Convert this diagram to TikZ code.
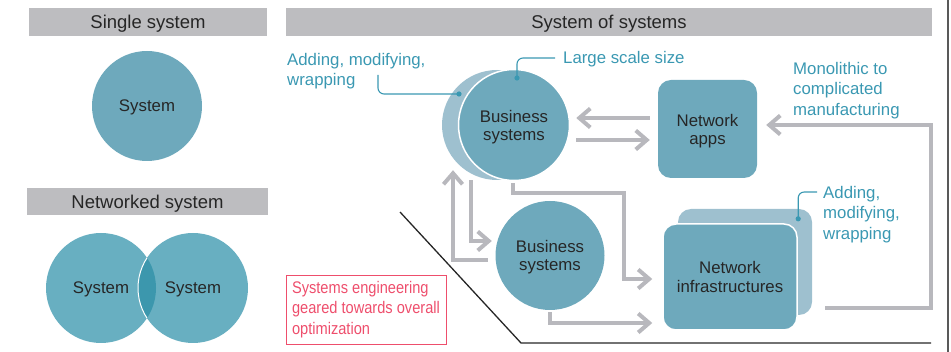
\documentclass[tikz,border=0pt]{standalone}
\usepackage{fontspec}
\setmainfont{Liberation Sans}
\newfontfamily\condfont{Liberation Sans}[FakeStretch=0.87]
\usetikzlibrary{arrows.meta,calc}
\definecolor{sysblue}{RGB}{110,169,188}
\definecolor{netblue}{RGB}{104,175,193}
\definecolor{ovblue}{RGB}{60,151,173}
\definecolor{shade}{RGB}{158,192,207}
\definecolor{hdrgray}{RGB}{189,189,192}
\definecolor{arrgray}{RGB}{184,184,189}
\definecolor{lblblue}{RGB}{58,152,178}
\definecolor{txtdark}{RGB}{38,38,38}
\definecolor{pinkred}{RGB}{238,78,108}
\begin{document}
\begin{tikzpicture}[x=1pt,y=-1pt,
  hdr/.style={fill=hdrgray, inner sep=0pt, text=txtdark, text depth=0pt,
    font=\fontsize{18.5}{20}\selectfont},
  sysc/.style={circle, inner sep=0pt, minimum size=110pt, text=txtdark, text depth=0pt,
    align=center, font=\fontsize{16.8}{18}\selectfont},
  sysbox/.style={rectangle, rounded corners=13pt, inner sep=0pt, text=txtdark, text depth=0pt,
    align=center, font=\fontsize{16.8}{18.5}\selectfont},
  garrow/.style={draw=arrgray, line width=4pt, -{Straight Barb[length=11pt,width=19pt]}},
  leader/.style={draw=lblblue, line width=1.1pt, rounded corners=6pt},
  lbl/.style={text=lblblue, inner sep=0pt, align=left, font=\fontsize{16.8}{20.5}\selectfont},
  dotc/.style={fill=lblblue}
]
\useasboundingbox (0,0) rectangle (951,352);

% headers
\node[hdr, minimum width=238pt, minimum height=28pt] (h1) at (148,22) {Single system};
\node[hdr, minimum width=241pt, minimum height=27pt] (h2) at (147.5,201.5) {Networked system};
\node[hdr, minimum width=646pt, minimum height=28pt] (h3) at (609,22) {System of systems};

% single system
\node[sysc, fill=sysblue] (s1) at (147,106) {System};

% networked system
\node[sysc, fill=netblue] (n1) at (101,288) {System};
\node[sysc, fill=netblue] (n2) at (193,288) {System};
\begin{scope}
  \clip (n1.center) circle (55);
  \fill[ovblue] (n2.center) circle (55);
  \draw[white, line width=1pt] (n2.center) circle (55);
\end{scope}

% system of systems
\node[sysc, fill=shade] (bs1s) at (497,125) {};
\node[sysc, fill=sysblue, draw=white, line width=1.5pt, minimum size=111pt] (bs1) at (514,125) {Business\\systems};
\node[sysbox, fill=sysblue, minimum width=99pt, minimum height=98pt, font=\fontsize{16.8}{18}\selectfont] (apps) at (707.5,129) {Network\\apps};
\node[sysc, fill=sysblue, minimum size=109pt] (bs2) at (550,255.5) {Business\\systems};
\node[sysbox, fill=shade, minimum width=134pt, minimum height=106pt] (infs) at (745,262) {};
\node[sysbox, fill=sysblue, draw=white, line width=1.5pt, minimum width=134pt, minimum height=106pt] (inf) at (730,277) {Network\\infrastructures};

% arrows
\draw[garrow] ($(apps.west)+(-8,-11)$) -- ($(bs1.east)+(6,-7)$);
\draw[garrow] ($(bs1.east)+(6,15)$) -- ($(apps.west)+(-8,11)$);
\draw[garrow] ($(bs2.west)+(-7.5,4.5)$) -| ($(bs1s.south)+(-44,-10)$);
\draw[garrow] ($(bs1s.south)+(-26,0)$) |- ($(bs2.west)+(-3.5,-14.5)$);
\draw[garrow] ($(bs1.south)+(-1,2)$) -- ++(0,10) -| ($(inf.west)+(-38,2)$) -- ($(inf.west)+(-10,2)$);
\draw[garrow] ($(bs2.south)+(0,2)$) |- ($(inf.west)+(-10,46)$);
\draw[garrow] ($(infs.south east)+(13,-7)$) -- ++(106,0) |- ($(apps.east)+(9,-4)$);

% labels
\node[lbl, anchor=base west] (lss) at (563,64) {Large scale size};
\node[lbl, anchor=north west] (add1) at (287,53) {Adding, modifying,\\wrapping};
\node[lbl, anchor=north west] (mono) at (793,62) {Monolithic to\\complicated\\manufacturing};
\node[lbl, anchor=north west] (add2) at (823,186) {Adding,\\modifying,\\wrapping};

\coordinate (d1) at ($(bs1.center)+(3,-47)$);
\coordinate (d2) at ($(bs1s.center)+(-38,-31)$);
\coordinate (d3) at ($(infs.north east)+(-14,10)$);
\draw[leader] ($(lss.base west)+(-8,-6)$) -| (d1);
\fill[dotc] (d1) circle (2.6);
\draw[leader] ($(add1.north west)+(91,22)$) |- (d2);
\fill[dotc] (d2) circle (2.6);
\draw[leader] ($(add2.north west)+(-6,6)$) -| (d3);
\fill[dotc] (d3) circle (2.6);

% pink note
\node[draw=pinkred, line width=0.9pt, text=pinkred, align=left, inner sep=0pt,
  minimum width=160pt, minimum height=69pt, font=\condfont\fontsize{16.8}{20.5}\selectfont]
  (note) at (366,309.5) {Systems engineering\\geared towards overall\\optimization};

% dividing lines
\draw[line width=1.3pt, black!85] (400,212) -- (521,343) -- (931,343);
\draw[line width=1.4pt, black!65] (948,0) -- (948,352);
\end{tikzpicture}
\end{document}
